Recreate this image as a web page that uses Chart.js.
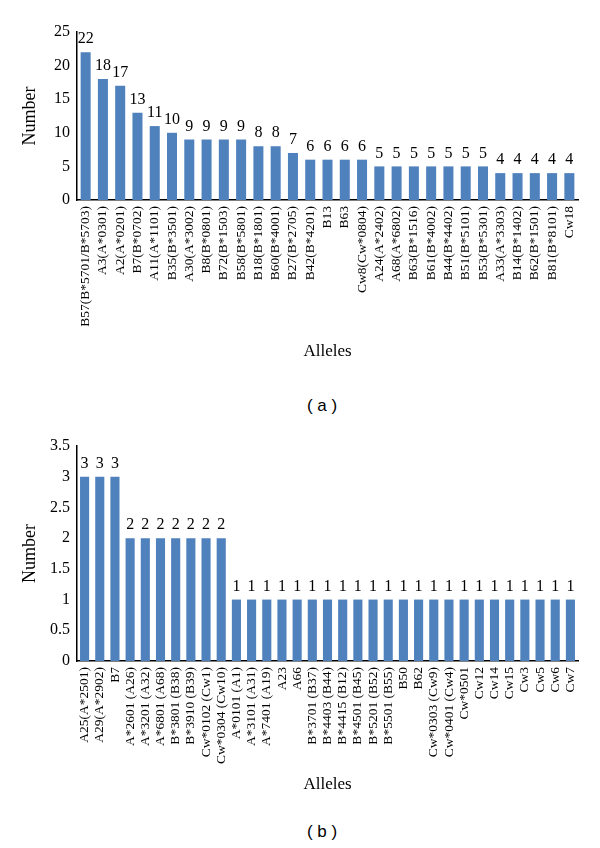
<!DOCTYPE html>
<html>
<head>
<meta charset="utf-8">
<script src="https://cdn.jsdelivr.net/npm/chart.js@4.4.0/dist/chart.umd.min.js"></script>
<style>
  body { margin: 0; background: #fff; }
  #wrap { position: relative; width: 600px; height: 848px; }
  canvas { position: absolute; left: 0; }
  #chartA { top: 0; }
  #chartB { top: 410px; }
  .cap { position: absolute; width: 100px; left: 272px; text-align: center;
         font-family: "Liberation Sans", Arial, sans-serif; font-size: 17px; line-height: 20px; color: #000; }
</style>
</head>
<body>
<div id="wrap">
  <canvas id="chartA" width="600" height="370"></canvas>
  <div class="cap" style="top:396px">( a )</div>
  <canvas id="chartB" width="600" height="395"></canvas>
  <div class="cap" style="top:822px">( b )</div>
</div>
<script>
// panel (a)
const allelesA = ['B57(B*5701/B*5703)', 'A3(A*0301)', 'A2(A*0201)', 'B7(B*0702)', 'A11(A*1101)',
  'B35(B*3501)', 'A30(A*3002)', 'B8(B*0801)', 'B72(B*1503)', 'B58(B*5801)', 'B18(B*1801)',
  'B60(B*4001)', 'B27(B*2705)', 'B42(B*4201)', 'B13', 'B63', 'Cw8(Cw*0804)', 'A24(A*2402)',
  'A68(A*6802)', 'B63(B*1516)', 'B61(B*4002)', 'B44(B*4402)', 'B51(B*5101)', 'B53(B*5301)',
  'A33(A*3303)', 'B14(B*1402)', 'B62(B*1501)', 'B81(B*8101)', 'Cw18'];
const countsA = [22, 18, 17, 13, 11, 10, 9, 9, 9, 9, 8, 8, 7, 6, 6, 6, 6, 5, 5, 5, 5, 5, 5, 5, 4, 4, 4, 4, 4];
const ticksA = [0, 5, 10, 15, 20, 25];

// panel (b)
const allelesB = ['A25(A*2501)', 'A29(A*2902)', 'B7', 'A*2601 (A26)', 'A*3201 (A32)', 'A*6801 (A68)',
  'B*3801 (B38)', 'B*3910 (B39)', 'Cw*0102 (Cw1)', 'Cw*0304 (Cw10)', 'A*0101 (A1)', 'A*3101 (A31)',
  'A*7401 (A19)', 'A23', 'A66', 'B*3701 (B37)', 'B*4403 (B44)', 'B*4415 (B12)', 'B*4501 (B45)',
  'B*5201 (B52)', 'B*5501 (B55)', 'B50', 'B62', 'Cw*0303 (Cw9)', 'Cw*0401 (Cw4)', 'Cw*0501',
  'Cw12', 'Cw14', 'Cw15', 'Cw3', 'Cw5', 'Cw6', 'Cw7'];
const countsB = [3, 3, 3, 2, 2, 2, 2, 2, 2, 2, 1, 1, 1, 1, 1, 1, 1, 1, 1, 1, 1, 1, 1, 1, 1, 1, 1, 1, 1, 1, 1, 1, 1];
const ticksB = [0, 0.5, 1, 1.5, 2, 2.5, 3, 3.5];

const serif = '"Liberation Serif", "Times New Roman", serif';

// value above each bar
const barValues = {
  id: 'barValues',
  afterDatasetsDraw(chart) {
    const ctx = chart.ctx;
    const ds = chart.data.datasets[0];
    ctx.save();
    ctx.font = '16px ' + serif;
    ctx.fillStyle = '#000';
    ctx.textAlign = 'center';
    ctx.textBaseline = 'bottom';
    chart.getDatasetMeta(0).data.forEach((bar, i) => {
      ctx.fillText(ds.data[i], bar.x, bar.y - 5);
    });
    ctx.restore();
  }
};

function makeChart(id, labels, counts, yTicks, opts) {
  return new Chart(document.getElementById(id), {
    type: 'bar',
    data: {
      labels: labels,
      datasets: [{
        data: counts,
        backgroundColor: '#4f81bd',
        borderWidth: 0,
        barPercentage: opts.barPct,
        categoryPercentage: 1
      }]
    },
    options: {
      responsive: false,
      animation: false,
      layout: { padding: { top: opts.top, right: 22, left: 0, bottom: 0 } },
      plugins: { legend: { display: false }, tooltip: { enabled: false } },
      scales: {
        x: {
          grid: { display: false, drawTicks: false },
          border: { color: '#000', width: 1.5 },
          ticks: {
            color: '#000', font: { family: serif, size: 13.5 },
            minRotation: 90, maxRotation: 90, autoSkip: false, padding: 6
          },
          title: {
            display: true, text: 'Alleles', color: '#000',
            font: { family: serif, size: 17 }, padding: { top: 0, bottom: opts.titlePad }
          },
          afterFit(scale) { scale.height = opts.xHeight; }
        },
        y: {
          min: 0, max: yTicks[yTicks.length - 1],
          grid: { display: false, drawTicks: false },
          border: { color: '#000', width: 1.5 },
          afterBuildTicks(scale) { scale.ticks = yTicks.map(v => ({ value: v })); },
          ticks: {
            color: '#000', font: { family: serif, size: 16 }, padding: 7,
            callback: v => String(v)
          },
          title: {
            display: true, text: 'Number', color: '#000',
            font: { family: serif, size: 18 }, padding: { top: 19, bottom: 0 }
          },
          afterFit(scale) { scale.width = 77; }
        }
      }
    },
    plugins: [barValues]
  });
}

makeChart('chartA', allelesA, countsA, ticksA, { barPct: 0.58, top: 32, xHeight: 170, titlePad: 8 });
makeChart('chartB', allelesB, countsB, ticksB, { barPct: 0.6, top: 36, xHeight: 144, titlePad: 10 });
</script>
</body>
</html>
